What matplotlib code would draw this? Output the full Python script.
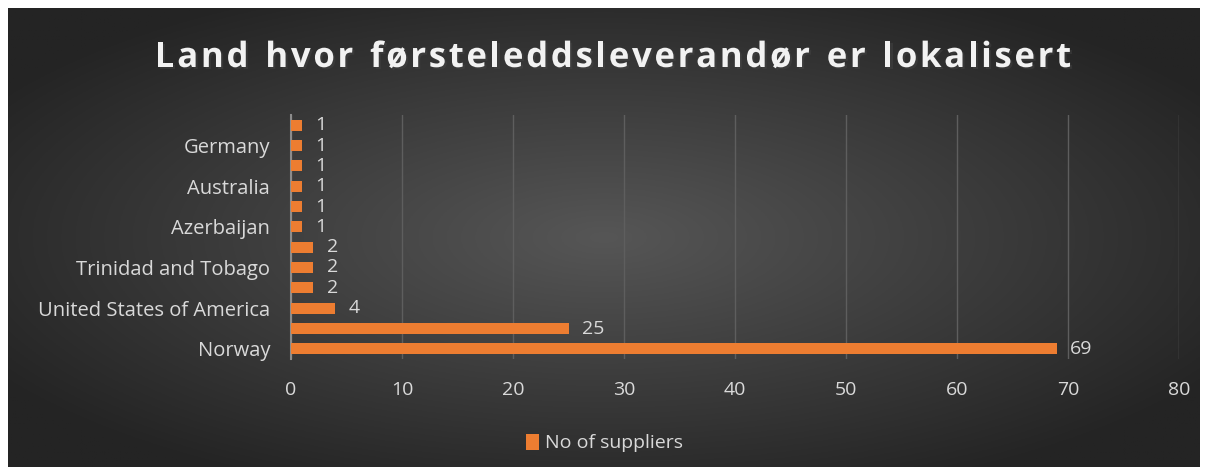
import numpy as np
import matplotlib.pyplot as plt
import matplotlib.patheffects as pe

# data (bottom to top as in the chart); unlabeled categories are hidden in the original
countries = ['Norway', '', 'United States of America', '', 'Trinidad and Tobago', '',
             'Azerbaijan', '', 'Australia', '', 'Germany', '']
suppliers = [69, 25, 4, 2, 2, 2, 1, 1, 1, 1, 1, 1]
series_name = 'No of suppliers'
title = 'Land hvor førsteleddsleverandør er lokalisert'

plt.rcParams['font.family'] = ['Open Sans', 'DejaVu Sans']

W, H = 1209, 475
fig = plt.figure(figsize=(W / 100, H / 100), dpi=100)
fig.patch.set_facecolor('white')

# dark radial gradient background
bg = fig.add_axes([8 / W, 8 / H, 1192 / W, 459 / H])
yy, xx = np.mgrid[-1:1:300j, -1:1:600j]
r = np.clip(np.sqrt(xx ** 2 + yy ** 2) / 1.2, 0, 1)
c0 = np.array([0x56, 0x56, 0x56]) / 255
c1 = np.array([0x24, 0x24, 0x24]) / 255
img = c0[None, None, :] * (1 - r[..., None]) + c1[None, None, :] * r[..., None]
bg.imshow(img, aspect='auto', extent=[0, 1, 0, 1])
bg.axis('off')

ax = fig.add_axes([291 / W, (H - 359) / H, (1179 - 291) / W, (359 - 115) / H])
ax.set_facecolor('none')
y = np.arange(len(countries))
bars = ax.barh(y, suppliers, height=0.55, color='#ED7D31', label=series_name, zorder=3)

for yi, v in zip(y, suppliers):
    ax.text(v + 1.2, yi, str(v), va='center', ha='left', color='#D9D9D9', fontsize=14, zorder=4)

ax.set_xlim(0, 80)
ax.set_ylim(-0.5, len(countries) - 0.5)
ax.set_xticks(range(0, 81, 10))
ax.set_yticks(y)
ax.set_yticklabels(countries)
ax.tick_params(axis='x', colors='#D9D9D9', labelsize=14, length=0, pad=16)
ax.tick_params(axis='y', colors='#D9D9D9', labelsize=14.5, length=0, pad=15)
ax.grid(axis='x', color='#5E5E5E', linewidth=1, zorder=0)
for s in ['top', 'right', 'bottom']:
    ax.spines[s].set_visible(False)
ax.spines['left'].set_color('#8C8C8C')
ax.spines['left'].set_linewidth(1.5)

# title with extra letter spacing, drawn char by char
renderer = fig.canvas.get_renderer()
tsize, gap = 25, 2.7
widths = []
for ch in title:
    t = fig.text(0, 0, ch if ch != ' ' else 'n', fontsize=tsize, fontweight='bold')
    widths.append(t.get_window_extent(renderer).width * (0.5 if ch == ' ' else 1))
    t.remove()
total = sum(widths) + gap * (len(title) - 1)
x = 613 - total / 2
for ch, w in zip(title, widths):
    if ch != ' ':
        fig.text(x / W, 1 - 58 / H, ch, ha='left', va='center', color='#F2F2F2',
                 fontsize=tsize, fontweight='bold',
                 path_effects=[pe.withSimplePatchShadow(offset=(1.5, -1.5), alpha=0.4)])
    x += w + gap

leg = fig.legend(handles=[bars], labels=[series_name], loc='center',
                 bbox_to_anchor=(0.5, 1 - 443 / H), frameon=False, fontsize=14,
                 handlelength=0.7, handleheight=0.9, handletextpad=0.3)
for t in leg.get_texts():
    t.set_color('#D9D9D9')

fig.savefig('out.png', dpi=100, facecolor='white')
